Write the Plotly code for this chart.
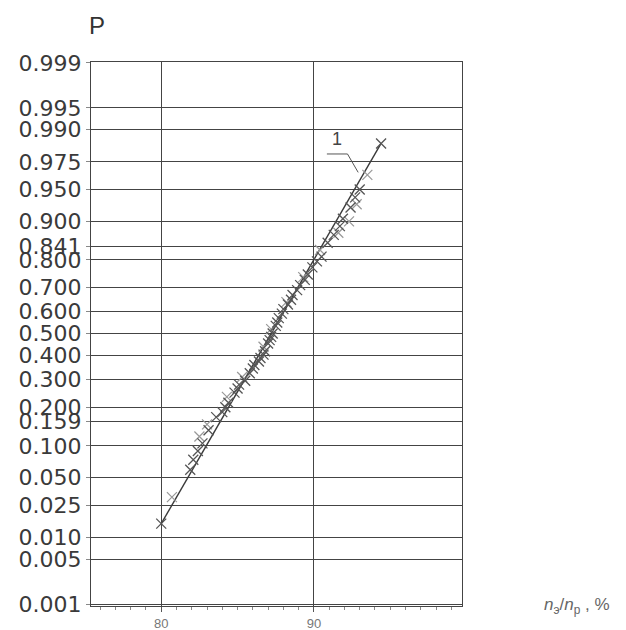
from statistics import NormalDist
import plotly.graph_objects as go

# ---- data ----
prob_ticks = [0.001, 0.005, 0.010, 0.025, 0.050, 0.100, 0.159, 0.200, 0.300, 0.400,
              0.500, 0.600, 0.700, 0.800, 0.841, 0.900, 0.950, 0.975, 0.990, 0.995, 0.999]
prob_labels = ["0.001", "0.005", "0.010", "0.025", "0.050", "0.100", "0.159", "0.200", "0.300", "0.400",
               "0.500", "0.600", "0.700", "0.800", "0.841", "0.900", "0.950", "0.975", "0.990", "0.995", "0.999"]
x_ticks = [80, 90]

obs_x = [80.0, 81.9, 82.1, 82.4, 82.7, 83.1, 83.6, 84.0, 84.2, 84.4, 84.8, 85.0, 85.1,
         85.5, 85.8, 86.0, 86.1, 86.4, 86.5, 86.7, 86.8, 87.0, 87.1, 87.2, 87.3, 87.5,
         87.6, 87.7, 87.9, 88.0, 88.3, 88.5, 88.6, 88.9, 89.1, 89.4, 89.6, 89.9, 90.2,
         90.5, 90.9, 91.3, 91.7, 91.9, 92.4, 92.7, 93.0, 94.4]
obs_p = [0.015, 0.060, 0.075, 0.090, 0.105, 0.135, 0.170, 0.185, 0.200, 0.215, 0.250, 0.265, 0.280,
         0.295, 0.325, 0.345, 0.360, 0.375, 0.390, 0.405, 0.420, 0.455, 0.470, 0.485, 0.500, 0.535,
         0.550, 0.570, 0.590, 0.610, 0.630, 0.650, 0.670, 0.690, 0.710, 0.730, 0.750, 0.775, 0.795,
         0.810, 0.850, 0.870, 0.890, 0.905, 0.925, 0.940, 0.950, 0.985]

light_x = [80.7, 82.5, 83.0, 84.3, 85.3, 86.7, 87.2, 88.2, 89.3, 90.4, 91.6, 92.3, 92.8, 93.5]
light_p = [0.031, 0.120, 0.150, 0.235, 0.310, 0.440, 0.520, 0.640, 0.740, 0.830, 0.875, 0.900, 0.930, 0.965]

line_x = [80.0, 94.4]
line_p = [0.015, 0.985]

z = NormalDist().inv_cdf
zt = [z(p) for p in prob_ticks]

fig = go.Figure()
fig.add_trace(go.Scatter(x=line_x, y=[z(p) for p in line_p], mode="lines",
                         line=dict(color="#3a3a3a", width=1.4), showlegend=False))
fig.add_trace(go.Scatter(x=light_x, y=[z(p) for p in light_p], mode="markers",
                         marker=dict(symbol="x-thin-open", size=10, color="#999999",
                                     line=dict(color="#999999", width=1.2)),
                         showlegend=False))
fig.add_trace(go.Scatter(x=obs_x, y=[z(p) for p in obs_p], mode="markers",
                         marker=dict(symbol="x-thin-open", size=10, color="#555555",
                                     line=dict(color="#555555", width=1.3)),
                         showlegend=False))

# leader for label "1"
fig.add_trace(go.Scatter(x=[90.85, 92.2, 92.9], y=[2.05, 2.05, 1.84], mode="lines",
                         line=dict(color="#555555", width=1), showlegend=False, hoverinfo="skip"))
fig.add_annotation(x=91.5, y=2.22, xref="x", yref="y", text="1", showarrow=False,
                   font=dict(family="Liberation Sans, Arial", size=18, color="#444444"))

fig.add_annotation(x=0.016, y=1.068, xref="paper", yref="paper", text="P", showarrow=False,
                   xanchor="center", yanchor="middle",
                   font=dict(family="Liberation Sans, Arial", size=24, color="#333333"))
fig.add_annotation(x=1.31, y=0.0, xref="paper", yref="paper",
                   text="<i>n</i><sub>э</sub>/<i>n</i><sub>р</sub> , %", showarrow=False,
                   xanchor="center", yanchor="middle",
                   font=dict(family="Liberation Sans, Arial", size=17, color="#666666"))

fig.update_xaxes(range=[75.4, 99.7], tickvals=x_ticks, ticktext=[str(v) for v in x_ticks],
                 showgrid=True, gridcolor="#444444", gridwidth=1,
                 showline=True, linecolor="#444444", linewidth=1, mirror=True,
                 ticks="outside", ticklen=5, tickcolor="#555555",
                 minor=dict(dtick=1, tick0=0, ticks="outside", ticklen=3, tickcolor="#888888", showgrid=False),
                 tickfont=dict(family="Liberation Sans, Arial", size=13, color="#777777"),
                 zeroline=False, automargin=False)
fig.update_yaxes(range=[-3.11, 3.10], tickvals=zt, ticktext=prob_labels,
                 showgrid=True, gridcolor="#444444", gridwidth=1,
                 showline=True, linecolor="#444444", linewidth=1, mirror=True,
                 ticks="outside", ticklen=4, tickcolor="#888888",
                 tickfont=dict(family="DejaVu Sans", size=22, color="#3a3a3a"),
                 zeroline=False, automargin=False)

fig.update_layout(width=626, height=630, paper_bgcolor="white", plot_bgcolor="white",
                  margin=dict(l=83, r=172, t=54, b=32), showlegend=False)

fig.write_html("out.html")
